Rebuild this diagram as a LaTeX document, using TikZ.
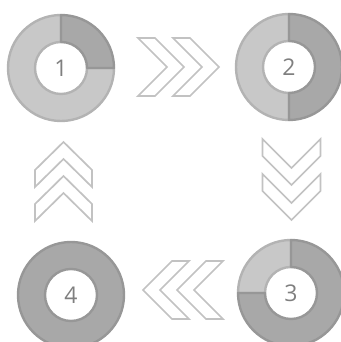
\documentclass[tikz,border=0pt]{standalone}
\usepackage{fontspec}
\setmainfont{Open Sans}
\definecolor{lightfill}{HTML}{C8C8C8}
\definecolor{lightline}{HTML}{B3B3B3}
\definecolor{darkfill}{HTML}{A8A8A8}
\definecolor{darkline}{HTML}{979797}
\definecolor{numcol}{HTML}{7F7F7F}
\definecolor{chevline}{HTML}{C2C2C2}
\newcommand{\donutseg}[5]{%
  \path[shift={(#1)}, fill=#4, draw=#5, line width=2.4pt, line join=round]
    (#2:53) arc[start angle=#2, end angle=#3, radius=53]
    -- (#3:26) arc[start angle=#3, end angle=#2, radius=26] -- cycle;}
\tikzset{
  num/.style={text=numcol, font=\fontsize{23}{23}\selectfont, inner sep=0pt},
  chev/.style={draw=chevline, fill=white, line width=1.7pt, line join=miter}
}
\begin{document}
\begin{tikzpicture}[x=1pt, y=1pt]
\useasboundingbox (0,0) rectangle (340,342);
% donut 1
\donutseg{61,274}{90}{360}{lightfill}{lightline}
\donutseg{61,274}{0}{90}{darkfill}{darkline}
\node[num] (d1) at (61,274) {1};
% donut 2
\donutseg{289,275}{90}{270}{lightfill}{lightline}
\donutseg{289,275}{-90}{90}{darkfill}{darkline}
\node[num] (d2) at (289,275) {2};
% donut 3
\donutseg{291,49}{90}{180}{lightfill}{lightline}
\donutseg{291,49}{180}{450}{darkfill}{darkline}
\node[num] (d3) at (291,49) {3};
% donut 4
\path[fill=darkfill, draw=darkline, line width=2.4pt, even odd rule]
  (71,47) circle[radius=53] (71,47) circle[radius=26];
\node[num] (d4) at (71,47) {4};
% right chevrons
\foreach \a in {138,173}{
  \draw[chev] (\a,304) -- (\a+17,304) -- (\a+46,275) -- (\a+17,246) -- (\a,246) -- (\a+29,275) -- cycle;}
% left chevrons
\foreach \t in {143,177}{
  \draw[chev] (\t,52) -- (\t+29,81) -- (\t+46,81) -- (\t+17,52) -- (\t+46,23) -- (\t+29,23) -- cycle;}
% down chevrons
\foreach \s in {203,168}{
  \draw[chev] (262.5,\s) -- (291.5,\s-29) -- (320.5,\s) -- (320.5,\s-17) -- (291.5,\s-46) -- (262.5,\s-17) -- cycle;}
% up chevrons
\foreach \s in {200,166}{
  \draw[chev] (63.5,\s) -- (92,\s-28) -- (92,\s-45) -- (63.5,\s-17) -- (35,\s-45) -- (35,\s-28) -- cycle;}
\end{tikzpicture}
\end{document}
